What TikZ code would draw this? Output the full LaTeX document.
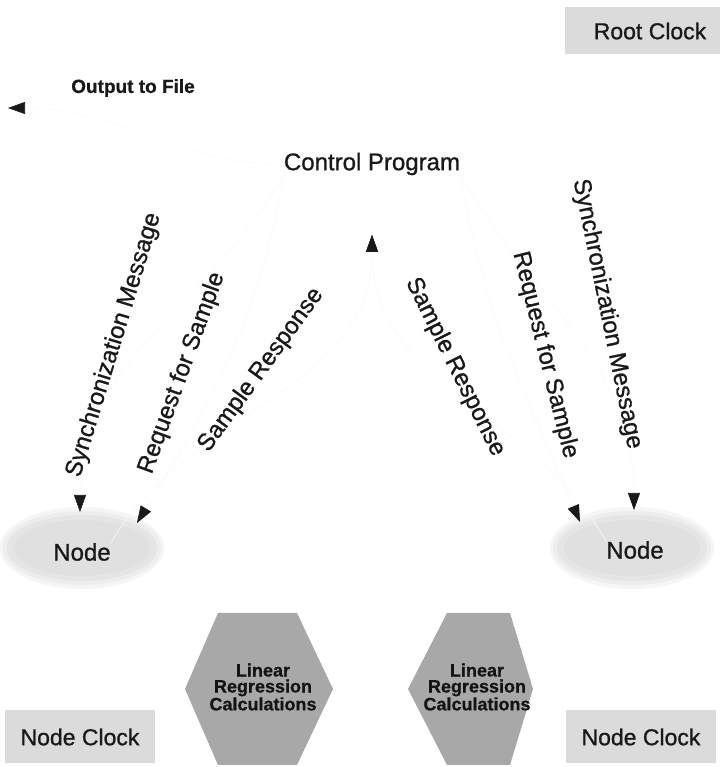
\documentclass[tikz,border=0pt]{standalone}
\usepackage{fontspec}
\setmainfont{Liberation Sans}
\newfontfamily\lblfont[FakeBold=0.9]{Liberation Sans}
\newfontfamily\boldlblfont[FakeBold=0.6]{Liberation Sans Bold}
\usetikzlibrary{arrows.meta,shapes.geometric}
\tikzset{
  lbl/.style={text=black!90,font=\lblfont\fontsize{24}{28}\selectfont,inner sep=0pt},
  smalllbl/.style={text=black!90,font=\boldlblfont\fontsize{19}{22}\selectfont,inner sep=0pt},
  hexlbl/.style={text=black!92,font=\boldlblfont\fontsize{18}{16}\selectfont,align=center,inner sep=0pt},
  clockbox/.style={fill=black!14,text=black!90,font=\lblfont\fontsize{23}{27}\selectfont,inner sep=0pt},
  conn/.style={draw=black!2,line width=0.6pt},
  tipdown/.style={-{Triangle[color=black!90,length=17pt,width=12pt]}},
}
\begin{document}
\begin{tikzpicture}[x=1pt,y=1pt]
\useasboundingbox (0,0) rectangle (719,767);
\fill[white] (0,0) rectangle (719,767);

% boxes
\node[clockbox,minimum width=170,minimum height=47] (rootclock) at (650,736) {Root Clock};
\node[clockbox,minimum width=150,minimum height=53] (nclockL) at (80,30) {Node Clock};
\node[clockbox,minimum width=150,minimum height=53] (nclockR) at (641,30) {Node Clock};

% node blobs
\foreach \cx/\cy in {82/219,632/219}{
  \fill[black!4] (\cx,\cy) ellipse (82 and 41);
  \fill[black!7] (\cx,\cy) ellipse (79 and 37);
  \fill[black!10] (\cx,\cy) ellipse (75 and 33);
  \fill[black!12] (\cx,\cy) ellipse (68 and 28);
}
\node[lbl] (nodeL) at (82,215) {Node};
\node[lbl] (nodeR) at (635,217) {Node};

% hexagons
\fill[black!34] (185,78) -- (218,154) -- (297,154) -- (333,78) -- (297,2) -- (218,2) -- cycle;
\fill[black!34] (408,78) -- (447,154) -- (510,154) -- (533,78) -- (510,2) -- (447,2) -- cycle;
\node[hexlbl] (hexL) at (263,80) {Linear\\Regression\\Calculations};
\node[hexlbl] (hexR) at (477,80) {Linear\\Regression\\Calculations};

% control program and output
\node[lbl] (cp) at (372,603) {Control Program};
\node[smalllbl] (out) at (133,679) {Output to File};

% arrow tip points
\coordinate (outTip) at (8,659);
\coordinate (cpTip) at (372,532);
\coordinate (lsTip) at (80,255);
\coordinate (lrTip) at (137,244);
\coordinate (rsTip) at (634,257);
\coordinate (rrTip) at (580,245);

% connectors
\draw[conn,tipdown] (cp.west) to[out=180,in=0] (outTip);
\draw[conn,tipdown] (cp.south west) to[out=-120,in=90] (lsTip);
\draw[conn,tipdown] (cp.south west) to[out=-100,in=58.6] (lrTip);
\draw[conn,tipdown] (cp.south east) to[out=-60,in=90] (rsTip);
\draw[conn,tipdown] (cp.south east) to[out=-80,in=113] (rrTip);
\draw[conn,tipdown] (nodeL.north east) to[out=60,in=-90] (cpTip);
\draw[conn,tipdown] (nodeR.north west) to[out=120,in=-90] (cpTip);

% connector labels
\node[lbl,rotate=73] (lsLbl) at (114,422) {Synchronization Message};
\node[lbl,rotate=70] (lrLbl) at (182,394) {Request for Sample};
\node[lbl,rotate=54] (lrespLbl) at (261,397) {Sample Response};
\node[lbl,rotate=-63.5] (rrespLbl) at (455,400) {Sample Response};
\node[lbl,rotate=-76] (rrLbl) at (545,412) {Request for Sample};
\node[lbl,rotate=-78.5] (rsLbl) at (607,453) {Synchronization Message};
\end{tikzpicture}
\end{document}
